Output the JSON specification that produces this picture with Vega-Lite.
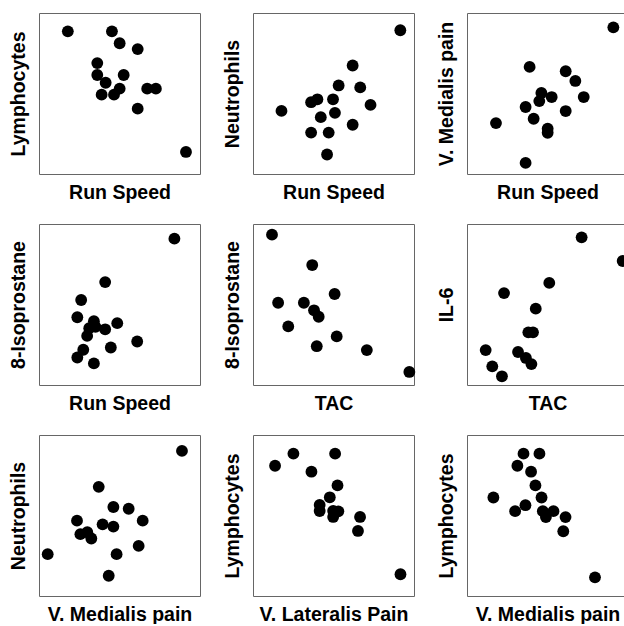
{
  "$schema": "https://vega.github.io/schema/vega-lite/v6.json",
  "padding": {"left": 7, "top": 12, "right": 0, "bottom": 0},
  "background": "white",
  "data": {"values": [
    {"p":1,"x":17.9,"y":88.6},{"p":1,"x":45.3,"y":88.6},{"p":1,"x":50.1,"y":81.2},{"p":1,"x":61.3,"y":77.6},{"p":1,"x":36.2,"y":68.9},{"p":1,"x":36.2,"y":61.5},{"p":1,"x":52.6,"y":61.5},{"p":1,"x":41.4,"y":56.7},{"p":1,"x":50.1,"y":53.0},{"p":1,"x":67.2,"y":53.0},{"p":1,"x":72.6,"y":53.0},{"p":1,"x":38.9,"y":49.3},{"p":1,"x":46.6,"y":49.3},{"p":1,"x":61.3,"y":40.6},{"p":1,"x":91.3,"y":13.7},
    {"p":2,"x":91.5,"y":89.3},{"p":2,"x":61.9,"y":67.4},{"p":2,"x":53.2,"y":55.0},{"p":2,"x":66.6,"y":53.8},{"p":2,"x":40.0,"y":46.4},{"p":2,"x":36.1,"y":44.6},{"p":2,"x":49.7,"y":46.4},{"p":2,"x":17.7,"y":39.2},{"p":2,"x":73.0,"y":42.9},{"p":2,"x":50.9,"y":38.0},{"p":2,"x":42.1,"y":35.3},{"p":2,"x":61.9,"y":30.6},{"p":2,"x":36.1,"y":25.7},{"p":2,"x":47.0,"y":25.7},{"p":2,"x":46.0,"y":12.1},
    {"p":3,"x":90.9,"y":91.1},{"p":3,"x":38.9,"y":66.5},{"p":3,"x":61.3,"y":63.8},{"p":3,"x":67.3,"y":57.8},{"p":3,"x":46.2,"y":50.3},{"p":3,"x":52.6,"y":47.8},{"p":3,"x":44.9,"y":45.3},{"p":3,"x":72.5,"y":47.8},{"p":3,"x":36.4,"y":41.6},{"p":3,"x":61.3,"y":39.1},{"p":3,"x":41.4,"y":34.3},{"p":3,"x":18.0,"y":31.6},{"p":3,"x":50.1,"y":28.1},{"p":3,"x":50.1,"y":25.6},{"p":3,"x":36.4,"y":6.9},
    {"p":4,"x":84.1,"y":90.9},{"p":4,"x":41.1,"y":63.9},{"p":4,"x":26.2,"y":52.8},{"p":4,"x":23.8,"y":42.1},{"p":4,"x":34.1,"y":39.6},{"p":4,"x":48.6,"y":38.4},{"p":4,"x":31.2,"y":35.3},{"p":4,"x":35.1,"y":36.1},{"p":4,"x":41.1,"y":34.6},{"p":4,"x":29.9,"y":30.5},{"p":4,"x":61.0,"y":27.0},{"p":4,"x":44.6,"y":23.3},{"p":4,"x":27.5,"y":21.9},{"p":4,"x":23.8,"y":17.1},{"p":4,"x":34.1,"y":13.4},
    {"p":5,"x":11.8,"y":93.4},{"p":5,"x":36.8,"y":74.5},{"p":5,"x":50.7,"y":56.5},{"p":5,"x":15.6,"y":51.1},{"p":5,"x":31.6,"y":51.1},{"p":5,"x":37.9,"y":46.4},{"p":5,"x":40.8,"y":42.4},{"p":5,"x":21.9,"y":36.4},{"p":5,"x":52.0,"y":30.2},{"p":5,"x":39.6,"y":24.1},{"p":5,"x":70.7,"y":21.7},{"p":5,"x":97.1,"y":8.1},
    {"p":6,"x":71.2,"y":91.7},{"p":6,"x":96.7,"y":77.0},{"p":6,"x":51.1,"y":63.4},{"p":6,"x":23.0,"y":57.1},{"p":6,"x":42.7,"y":47.4},{"p":6,"x":38.1,"y":32.7},{"p":6,"x":41.0,"y":32.7},{"p":6,"x":11.6,"y":21.7},{"p":6,"x":31.7,"y":20.5},{"p":6,"x":36.6,"y":16.8},{"p":6,"x":40.0,"y":13.0},{"p":6,"x":15.7,"y":11.6},{"p":6,"x":21.7,"y":5.4},
    {"p":7,"x":88.8,"y":90.1},{"p":7,"x":37.1,"y":67.8},{"p":7,"x":46.2,"y":55.3},{"p":7,"x":55.7,"y":54.2},{"p":7,"x":23.6,"y":46.8},{"p":7,"x":39.5,"y":44.5},{"p":7,"x":46.2,"y":43.1},{"p":7,"x":64.4,"y":46.8},{"p":7,"x":25.7,"y":38.4},{"p":7,"x":30.0,"y":39.6},{"p":7,"x":32.5,"y":35.7},{"p":7,"x":61.9,"y":31.1},{"p":7,"x":5.4,"y":26.0},{"p":7,"x":48.2,"y":26.0},{"p":7,"x":43.3,"y":12.6},
    {"p":8,"x":25.1,"y":88.4},{"p":8,"x":51.0,"y":88.4},{"p":8,"x":13.7,"y":80.9},{"p":8,"x":36.3,"y":77.2},{"p":8,"x":52.5,"y":68.7},{"p":8,"x":47.7,"y":61.3},{"p":8,"x":41.4,"y":56.5},{"p":8,"x":41.4,"y":52.8},{"p":8,"x":49.8,"y":52.8},{"p":8,"x":53.0,"y":52.6},{"p":8,"x":49.8,"y":49.1},{"p":8,"x":66.5,"y":49.1},{"p":8,"x":65.2,"y":40.4},{"p":8,"x":91.6,"y":13.5},
    {"p":9,"x":35.1,"y":88.4},{"p":9,"x":45.0,"y":88.4},{"p":9,"x":31.3,"y":80.9},{"p":9,"x":39.8,"y":77.2},{"p":9,"x":42.5,"y":68.7},{"p":9,"x":16.4,"y":61.2},{"p":9,"x":46.3,"y":61.2},{"p":9,"x":36.3,"y":56.4},{"p":9,"x":29.9,"y":52.7},{"p":9,"x":47.1,"y":52.7},{"p":9,"x":53.7,"y":52.7},{"p":9,"x":49.0,"y":49.0},{"p":9,"x":61.2,"y":49.0},{"p":9,"x":59.8,"y":40.2},{"p":9,"x":79.5,"y":11.6}
  ]},
  "columns": 3,
  "bounds": "flush",
  "spacing": {"row": 50, "column": 53},
  "concat": [
    {"width":161,"height":161,"transform":[{"filter":"datum.p==1"}],"mark":{"type":"circle","size":140,"color":"black","opacity":1},"encoding":{"x":{"field":"x","type":"quantitative","scale":{"domain":[0,100]},"title":"Run Speed"},"y":{"field":"y","type":"quantitative","scale":{"domain":[0,100]},"title":"Lymphocytes"}}},
    {"width":161,"height":161,"transform":[{"filter":"datum.p==2"}],"mark":{"type":"circle","size":140,"color":"black","opacity":1},"encoding":{"x":{"field":"x","type":"quantitative","scale":{"domain":[0,100]},"title":"Run Speed"},"y":{"field":"y","type":"quantitative","scale":{"domain":[0,100]},"title":"Neutrophils"}}},
    {"width":161,"height":161,"transform":[{"filter":"datum.p==3"}],"mark":{"type":"circle","size":140,"color":"black","opacity":1},"encoding":{"x":{"field":"x","type":"quantitative","scale":{"domain":[0,100]},"title":"Run Speed"},"y":{"field":"y","type":"quantitative","scale":{"domain":[0,100]},"title":"V. Medialis pain"}}},
    {"width":161,"height":161,"transform":[{"filter":"datum.p==4"}],"mark":{"type":"circle","size":140,"color":"black","opacity":1},"encoding":{"x":{"field":"x","type":"quantitative","scale":{"domain":[0,100]},"title":"Run Speed"},"y":{"field":"y","type":"quantitative","scale":{"domain":[0,100]},"title":"8-Isoprostane"}}},
    {"width":161,"height":161,"transform":[{"filter":"datum.p==5"}],"mark":{"type":"circle","size":140,"color":"black","opacity":1},"encoding":{"x":{"field":"x","type":"quantitative","scale":{"domain":[0,100]},"title":"TAC"},"y":{"field":"y","type":"quantitative","scale":{"domain":[0,100]},"title":"8-Isoprostane"}}},
    {"width":161,"height":161,"transform":[{"filter":"datum.p==6"}],"mark":{"type":"circle","size":140,"color":"black","opacity":1},"encoding":{"x":{"field":"x","type":"quantitative","scale":{"domain":[0,100]},"title":"TAC"},"y":{"field":"y","type":"quantitative","scale":{"domain":[0,100]},"title":"IL-6"}}},
    {"width":161,"height":161,"transform":[{"filter":"datum.p==7"}],"mark":{"type":"circle","size":140,"color":"black","opacity":1},"encoding":{"x":{"field":"x","type":"quantitative","scale":{"domain":[0,100]},"title":"V. Medialis pain"},"y":{"field":"y","type":"quantitative","scale":{"domain":[0,100]},"title":"Neutrophils"}}},
    {"width":161,"height":161,"transform":[{"filter":"datum.p==8"}],"mark":{"type":"circle","size":140,"color":"black","opacity":1},"encoding":{"x":{"field":"x","type":"quantitative","scale":{"domain":[0,100]},"title":"V. Lateralis Pain"},"y":{"field":"y","type":"quantitative","scale":{"domain":[0,100]},"title":"Lymphocytes"}}},
    {"width":161,"height":161,"transform":[{"filter":"datum.p==9"}],"mark":{"type":"circle","size":140,"color":"black","opacity":1},"encoding":{"x":{"field":"x","type":"quantitative","scale":{"domain":[0,100]},"title":"V. Medialis pain"},"y":{"field":"y","type":"quantitative","scale":{"domain":[0,100]},"title":"Lymphocytes"}}}
  ],
  "config": {
    "view": {"stroke": "#666666", "strokeWidth": 1},
    "axis": {"labels": false, "ticks": false, "domain": false, "grid": false, "titleFont": "Liberation Sans", "titleFontSize": 19.5, "titleFontWeight": "bold", "titleColor": "black"},
    "axisX": {"titlePadding": 9},
    "axisY": {"titlePadding": 11}
  }
}
